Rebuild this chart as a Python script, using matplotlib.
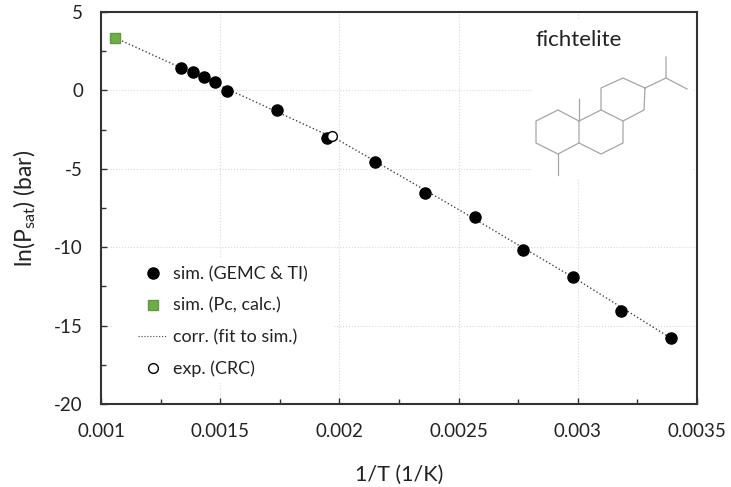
import matplotlib
matplotlib.use('Agg')
import matplotlib.pyplot as plt
from matplotlib.lines import Line2D
from matplotlib.patches import Rectangle

plt.rcParams['font.family'] = ['Lato', 'DejaVu Sans']
plt.rcParams['mathtext.fontset'] = 'custom'
plt.rcParams['mathtext.rm'] = 'Lato'
plt.rcParams['mathtext.default'] = 'rm'

W = 731
H = 487

# values
sim_x = [0.001334, 0.001385, 0.00143, 0.00148, 0.00153, 0.00174, 0.001947,
         0.00215, 0.00236, 0.00257, 0.00277, 0.00298, 0.00318, 0.00339]
sim_y = [1.45, 1.15, 0.85, 0.55, -0.05, -1.25, -3.05,
         -4.55, -6.55, -8.1, -10.2, -11.9, -14.05, -15.8]
pc_x = [0.00106]
pc_y = [3.35]
exp_x = [0.00197]
exp_y = [-2.9]
fit_x = [0.00106, 0.0015, 0.002, 0.0025, 0.003, 0.00339]
fit_y = [3.35, 0.3, -3.2, -7.6, -12.1, -15.8]

xticks = [0.001, 0.0015, 0.002, 0.0025, 0.003, 0.0035]
xticklabels = ['0.001', '0.0015', '0.002', '0.0025', '0.003', '0.0035']
xminor = [0.00125, 0.00175, 0.00225, 0.00275, 0.00325]
yticks = [5, 0, -5, -10, -15, -20]
yticklabels = ['5', '0', '-5', '-10', '-15', '-20']
yminor = [2.5, -2.5, -7.5, -12.5, -17.5]

# skeleton of the molecule, in image pixels
mol_lines = [
    [(666, 57), (666, 78), (687, 89)],
    [(666, 78), (645, 88), (623, 78), (601, 88), (601, 110), (623, 121), (644, 110), (645, 88)],
    [(601, 110), (579, 121), (579, 143), (601, 154), (623, 143), (623, 121)],
    [(579, 121), (558, 110), (536, 121), (536, 143), (558, 154), (579, 143)],
    [(579, 121), (579, 99)],
    [(558, 154), (558, 175)],
]


def px(x, y):
    return x / W, 1 - y / H


fig = plt.figure(figsize=(W / 100, H / 100), dpi=100)
ax = fig.add_axes([101 / W, 1 - 404 / H, 596 / W, 392 / H])

ax.set_xlim(0.001, 0.0035)
ax.set_ylim(-20, 5)
ax.set_xticks(xticks)
ax.set_xticklabels(xticklabels)
ax.set_xticks(xminor, minor=True)
ax.set_yticks(yticks)
ax.set_yticklabels(yticklabels)
ax.set_yticks(yminor, minor=True)
ax.grid(True, which='major', color='#d9d9d9', linestyle=':', linewidth=0.8)
ax.set_axisbelow(True)
ax.tick_params(which='major', direction='in', length=4, width=1, labelsize=13.5, color='#333333',
               labelcolor='#222222')
ax.tick_params(which='minor', direction='in', length=3.5, width=1, color='#333333')
ax.tick_params(axis='y', which='major', pad=13)
ax.tick_params(axis='x', which='major', pad=14)
for s in ax.spines.values():
    s.set_linewidth(1.5)
    s.set_color('#333333')

# white boxes of the legend and the molecule sit over the grid
ax.add_patch(Rectangle(px(532, 178), 160 / W, 158 / H, transform=fig.transFigure,
                       facecolor='white', edgecolor='none', zorder=1))
ax.add_patch(Rectangle(px(112, 383), 221 / W, 125 / H, transform=fig.transFigure,
                       facecolor='white', edgecolor='none', zorder=1))

ax.plot(fit_x, fit_y, color='#444444', linestyle=':', linewidth=1, zorder=2)
ax.plot(sim_x, sim_y, 'o', color='black', markersize=8, zorder=3)
ax.plot(pc_x, pc_y, 's', color='#70ad47', markeredgecolor='#5f9a3c', markersize=7, zorder=3)
ax.plot(exp_x, exp_y, 'o', color='white', markeredgecolor='black', markeredgewidth=1,
        markersize=7, zorder=4)

ax.set_xlabel('1/T (1/K)', fontsize=15.5, color='#222222')
ax.set_ylabel(r'ln(P$_{\mathrm{sat}}$) (bar)', fontsize=16.5, color='#222222')
ax.xaxis.set_label_coords(0.5, -61 / 392)
ax.yaxis.set_label_coords(-63 / 596, 0.5)

for line in mol_lines:
    xs = [px(p[0], p[1])[0] for p in line]
    ys = [px(p[0], p[1])[1] for p in line]
    fig.add_artist(Line2D(xs, ys, color='#a6a6a6', linewidth=0.9))

fig.text(*px(536, 46), 'fichtelite', fontsize=16, color='#222222', va='baseline')

handles = [
    Line2D([], [], marker='o', color='black', linestyle='none', markersize=8),
    Line2D([], [], marker='s', color='#70ad47', markeredgecolor='#5f9a3c', linestyle='none', markersize=7),
    Line2D([], [], color='#444444', linestyle=':', linewidth=0.8),
    Line2D([], [], marker='o', color='white', markeredgecolor='black', linestyle='none', markersize=7),
]
labels = ['sim. (GEMC & TI)', 'sim. (Pc, calc.)', 'corr. (fit to sim.)', 'exp. (CRC)']
ax.legend(handles, labels, loc='lower left', bbox_to_anchor=(px(138, 0)[0], px(0, 377)[1]),
          bbox_transform=fig.transFigure, frameon=False, fontsize=12.9, labelspacing=0.85,
          handlelength=1.62, handletextpad=0.33, borderpad=0, borderaxespad=0, labelcolor='#222222')

fig.savefig('out.png', dpi=100)
